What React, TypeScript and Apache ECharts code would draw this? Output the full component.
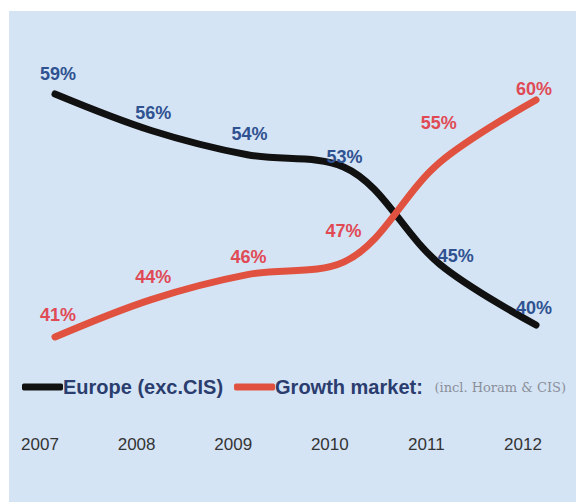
import React, { useEffect, useRef } from "react";
import * as echarts from "echarts";

const years = ["2007", "2008", "2009", "2010", "2011", "2012"];
const europe = [59, 56, 54, 53, 45, 40];
const growth = [41, 44, 46, 47, 55, 60];
const europeName = "Europe (exc.CIS)";
const growthName = "Growth markets";
const growthNote = "(incl. Horam & CIS)";

// label placement tweaks (style only)
const europeLabelOffsets = [[3, -11], [2, -8], [2, -12], [1, -1], [16, 1], [-2, -8]];
const growthLabelOffsets = [[3, -13], [2, -14], [1, -9], [0, -22], [-1, -30], [-2, -2]];

export default function App() {
  const ref = useRef<HTMLDivElement>(null);
  useEffect(() => {
    const chart = echarts.init(ref.current!, null, { renderer: "svg" });
    const labelBase = {
      show: true,
      position: "top",
      distance: 0,
      fontSize: 18,
      fontWeight: "bold",
      fontFamily: "Liberation Sans, Arial, sans-serif",
      formatter: (p: any) => p.value + "%",
    };
    chart.setOption({
      animation: false,
      backgroundColor: "transparent",
      grid: [
        { left: 46, right: 40, top: 83, bottom: 177 },
        { left: 31, right: 53, top: 414, height: 1 },
      ],
      xAxis: [
        { type: "category", data: years, boundaryGap: false, gridIndex: 0, show: false },
        {
          type: "category",
          data: years,
          boundaryGap: false,
          gridIndex: 1,
          axisLine: { show: false },
          axisTick: { show: false },
          axisLabel: {
            color: "#333",
            fontSize: 17,
            fontFamily: "Liberation Sans, Arial, sans-serif",
            margin: 10,
          },
        },
      ],
      yAxis: [
        { type: "value", min: 40, max: 59, gridIndex: 0, show: false },
        { type: "value", min: 41.96, max: 60.48, gridIndex: 0, show: false },
        { type: "value", gridIndex: 1, show: false },
      ],
      legend: {
        left: 13,
        top: 366,
        width: 600,
        padding: 0,
        itemWidth: 41,
        itemHeight: 7,
        itemGap: 11,
        icon: "roundRect",
        textStyle: {
          color: "#2a3d6e",
          fontSize: 20,
          fontWeight: "bold",
          fontFamily: "Liberation Sans, Arial, sans-serif",
          padding: [0, 0, 0, -5],
          rich: {
            s: {
              fontSize: 13,
              fontWeight: "normal",
              color: "#8a8f99",
              fontFamily: "DejaVu Serif, serif",
              padding: [0, 0, 0, 6],
            },
          },
        },
        formatter: (name: string) =>
          name === growthName ? `${name.slice(0, -1)}: {s|${growthNote}}` : name,
        data: [europeName, growthName],
      },
      series: [
        {
          name: europeName,
          type: "line",
          xAxisIndex: 0,
          yAxisIndex: 0,
          smooth: 0.35,
          clip: false,
          symbol: "circle",
          symbolSize: 0,
          color: "#111111",
          lineStyle: { width: 7, color: "#111111", cap: "round" },
          label: { ...labelBase, color: "#2f5291" },
          data: europe.map((v, i) => ({ value: v, label: { offset: europeLabelOffsets[i] } })),
        },
        {
          name: growthName,
          type: "line",
          xAxisIndex: 0,
          yAxisIndex: 1,
          smooth: 0.35,
          clip: false,
          symbol: "circle",
          symbolSize: 0,
          color: "#e0523f",
          lineStyle: { width: 7, color: "#e0523f", cap: "round" },
          label: { ...labelBase, color: "#e04a55" },
          data: growth.map((v, i) => ({ value: v, label: { offset: growthLabelOffsets[i] } })),
        },
      ],
    });
    return () => chart.dispose();
  }, []);
  return (
    <div
      ref={ref}
      style={{
        position: "absolute",
        left: 9,
        top: 11,
        width: 567,
        height: 491,
        background: "#d5e4f5",
      }}
    />
  );
}
